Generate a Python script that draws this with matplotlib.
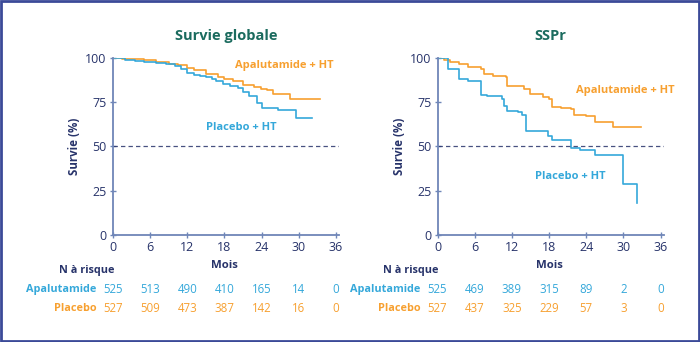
import numpy as np
import matplotlib.pyplot as plt
from matplotlib.patches import Rectangle

plt.rcParams['font.family'] = ['Open Sans', 'DejaVu Sans']

# Couleurs
ORANGE = '#F7A030'
BLUE = '#35A8DA'
NAVY = '#27336A'
AXIS = '#6F86B8'
TEAL = '#1B6B5E'

# Survie globale (courbes de Kaplan-Meier)
os_apa_t = [0, 1.5, 3, 5, 7, 9, 10.5, 12, 13, 15, 17, 18, 19.4, 21, 22.7, 23.9, 24.8, 25.9, 28.5, 33.5]
os_apa_s = [100, 99.6, 99.2, 98.6, 98, 96.5, 95.8, 94.5, 93, 91, 89.5, 88, 87, 85, 83.6, 82.6, 81.7, 79.6, 76.8, 76.8]
os_pla_t = [0, 2, 3.5, 5, 7, 8.5, 10, 11, 12, 13, 14, 15, 16, 16.7, 17.8, 18.9, 20.2, 21, 21.9, 23.2, 24, 26.7, 29.6, 32.1]
os_pla_s = [100, 99, 98.2, 97.6, 97, 96.4, 95.5, 94, 91.5, 90.5, 90, 89, 88, 86.8, 85.5, 84, 83, 81, 78.5, 74.5, 71.7, 70.8, 66, 66]

# SSPr
pfs_apa_t = [0, 1, 2, 3.5, 5, 7, 7.5, 9, 11, 11.3, 14, 15, 17, 18, 18.5, 20, 21.5, 22, 24, 25.5, 28.4, 32.8]
pfs_apa_s = [100, 99, 97.5, 96.5, 95, 94, 91, 90, 89, 84, 82.5, 79.5, 78, 77, 72.5, 71.5, 71, 68, 67, 64, 61, 61]
pfs_pla_t = [0, 1.7, 3.5, 5, 7, 8, 10.4, 10.7, 11.2, 13, 13.6, 14.3, 16.5, 17.9, 18.5, 21.6, 23, 25.4, 29.9, 32.2]
pfs_pla_s = [100, 94, 88, 87, 79, 78.5, 77, 73, 70, 69.5, 68, 59, 58.5, 56, 53.5, 49, 48, 45, 29, 18]

# Nombre de patients à risque
months = [0, 6, 12, 18, 24, 30, 36]
os_risk_apa = [525, 513, 490, 410, 165, 14, 0]
os_risk_pla = [527, 509, 473, 387, 142, 16, 0]
pfs_risk_apa = [525, 469, 389, 315, 89, 2, 0]
pfs_risk_pla = [527, 437, 325, 229, 57, 3, 0]

fig = plt.figure(figsize=(7, 3.42), dpi=100)
fig.patches.append(Rectangle((0.0015, 0.003), 0.997, 0.994, transform=fig.transFigure,
                             fill=False, edgecolor='#3B4A98', linewidth=2))

panels = [
    (0.1614, 'Survie globale', os_apa_t, os_apa_s, os_pla_t, os_pla_s, os_risk_apa, os_risk_pla,
     (19.7, 95.5), (15.0, 61)),
    (0.625, 'SSPr', pfs_apa_t, pfs_apa_s, pfs_pla_t, pfs_pla_s, pfs_risk_apa, pfs_risk_pla,
     (22.4, 81.4), (15.8, 33.3)),
]

for x0, title, at, as_, pt, ps, ra, rp, apa_pos, pla_pos in panels:
    ax = fig.add_axes([x0, 0.3129, 0.323, 0.5175])
    ax.step(at, as_, where='post', color=ORANGE, lw=1.2)
    ax.step(pt, ps, where='post', color=BLUE, lw=1.2)
    ax.axhline(50, color=NAVY, lw=0.9, ls=(0, (3.5, 2.5)), alpha=0.85)
    ax.set_xlim(0, 36.5)
    ax.set_ylim(0, 100)
    ax.set_xticks(months)
    ax.set_yticks([0, 25, 50, 75, 100])
    for s in ['top', 'right']:
        ax.spines[s].set_visible(False)
    for s in ['left', 'bottom']:
        ax.spines[s].set_color(AXIS)
        ax.spines[s].set_linewidth(1.3)
    ax.tick_params(direction='inout', length=5, width=1, color=AXIS,
                   labelsize=9, labelcolor=NAVY, pad=2)
    ax.set_ylabel('Survie (%)', fontsize=8.3, fontweight='bold', color=NAVY, labelpad=3)
    ax.set_title(title, fontsize=10.5, fontweight='bold', color=TEAL, pad=13)
    ax.text(apa_pos[0], apa_pos[1], 'Apalutamide + HT', color=ORANGE, fontsize=8,
            fontweight='bold', va='center', ha='left', clip_on=False)
    ax.text(pla_pos[0], pla_pos[1], 'Placebo + HT', color=BLUE, fontsize=8,
            fontweight='bold', va='center', ha='left')

    # Mois et tableau des patients à risque
    ax.text(18, -17, 'Mois', ha='center', va='center',
            fontsize=8.2, fontweight='bold', color=NAVY)
    ax.text(-4.3, -20, 'N à risque', ha='center', va='center',
            fontsize=7.8, fontweight='bold', color=NAVY)
    ax.text(-2.7, -31, 'Apalutamide', ha='right', va='center',
            fontsize=7.8, fontweight='bold', color=BLUE)
    ax.text(-2.7, -41.5, 'Placebo', ha='right', va='center',
            fontsize=7.8, fontweight='bold', color=ORANGE)
    for m, a, p in zip(months, ra, rp):
        ax.text(m, -31, str(a), ha='center', va='center', fontsize=8.3, color=BLUE)
        ax.text(m, -41.5, str(p), ha='center', va='center', fontsize=8.3, color=ORANGE)

fig.savefig('out.png', dpi=100)
